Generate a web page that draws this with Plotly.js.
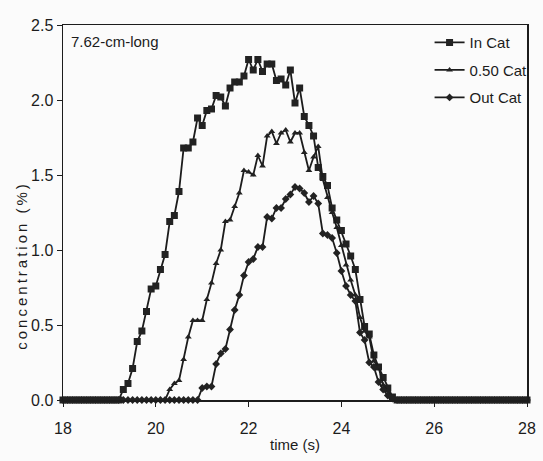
<!DOCTYPE html>
<html>
<head>
<meta charset="utf-8">
<script src="https://cdn.plot.ly/plotly-3.0.1.min.js"></script>
<style>
  html, body { margin: 0; padding: 0; background: #fbfbfb; }
  #chart { width: 543px; height: 461px; }
</style>
</head>
<body>
<div id="chart"></div>
<script>
// sampling: first time (s) and step (s)
const t0 = 18.0;
const dt = 0.1;

const seriesNames = ["In Cat", "0.50 Cat", "Out Cat"];

// concentration (%) from t = 18.0 s to 28.0 s, every 0.1 s
const inCat = [
  0,0,0,0,0,0,0,0,0,0,0,0,0,
  0.07,0.11,0.21,0.39,0.46,0.59,0.74,0.76,0.87,0.97,
  1.19,1.23,1.39,1.68,1.68,1.72,1.88,1.83,1.93,1.94,
  2.03,2.02,1.96,2.08,2.12,2.12,2.16,2.27,2.20,2.27,
  2.19,2.24,2.24,2.13,2.14,2.10,2.20,1.98,2.08,1.89,
  1.83,1.76,1.55,1.49,1.43,1.28,1.20,1.13,1.04,0.96,
  0.87,0.67,0.49,0.44,0.30,0.22,0.15,0.08,0.02,
  0,0,0,0,0,0,0,0,0,0,0,0,0,0,0,0,0,0,0,0,0,0,0,0,0,0,0,0,0
];
const halfCat = [
  0,0,0,0,0,0,0,0,0,0,0,0,0,0,0,0,0,0,0,0,0,0,0,
  0.07,0.11,0.13,0.27,0.42,0.53,0.53,0.53,0.67,0.78,
  0.91,1.00,1.19,1.20,1.29,1.38,1.53,1.52,1.50,1.63,
  1.56,1.76,1.79,1.71,1.78,1.80,1.72,1.78,1.78,1.65,
  1.53,1.62,1.69,1.47,1.35,1.25,1.15,1.03,0.90,0.80,
  0.70,0.55,0.46,0.42,0.26,0.22,0.10,0.06,0.02,
  0,0,0,0,0,0,0,0,0,0,0,0,0,0,0,0,0,0,0,0,0,0,0,0,0,0,0,0,0
];
const outCat = [
  0,0,0,0,0,0,0,0,0,0,0,0,0,0,0,0,0,0,0,0,0,0,0,0,0,0,0,0,0,0,
  0.08,0.09,0.09,0.24,0.31,0.34,0.47,0.60,0.70,0.83,
  0.92,0.94,1.02,1.02,1.22,1.21,1.28,1.28,1.34,1.37,
  1.42,1.41,1.38,1.32,1.36,1.31,1.11,1.10,1.08,0.98,
  0.86,0.76,0.70,0.66,0.45,0.40,0.25,0.22,0.12,0.07,
  0.03,0.01,
  0,0,0,0,0,0,0,0,0,0,0,0,0,0,0,0,0,0,0,0,0,0,0,0,0,0,0,0,0
];

const xTicks = [18, 20, 22, 24, 26, 28];
const yTicks = [0, 0.5, 1.0, 1.5, 2.0, 2.5];

const FONT = '"Liberation Sans Narrow", "Liberation Sans", Arial, sans-serif';
const INK = '#1c1c1c';

function trace(name, y, symbol, size) {
  return {
    type: 'scatter', mode: 'lines+markers', name: name, legendgroup: name,
    x0: t0, dx: dt, y: y, cliponaxis: false,
    line: { color: INK, width: 1.8 },
    marker: { symbol: symbol, size: size, color: '#222222', line: { width: 0 } }
  };
}

const data = [
  trace(seriesNames[0], inCat, 'square', 7),
  trace(seriesNames[1], halfCat, 'triangle-up', 6),
  trace(seriesNames[2], outCat, 'diamond', 6)
];

const layout = {
  width: 543, height: 461,
  margin: { l: 63, r: 10, t: 25, b: 61 },
  paper_bgcolor: '#fbfbfb', plot_bgcolor: '#fbfbfb',
  font: { family: FONT, size: 15, color: INK },
  showlegend: true,
  legend: {
    x: 1.012, y: 0.997, xanchor: 'right', yanchor: 'top',
    bgcolor: 'rgba(0,0,0,0)', borderwidth: 0,
    font: { family: FONT, size: 15, color: INK },
    traceorder: 'grouped', tracegroupgap: 5, itemwidth: 30
  },
  xaxis: {
    range: [18, 28], tickvals: xTicks, ticktext: xTicks.map(String),
    showline: true, linecolor: INK, linewidth: 1.5, mirror: true,
    ticks: 'outside', ticklen: 5, tickcolor: INK, showgrid: false, zeroline: false,
    ticklabelstandoff: 8,
    tickfont: { family: FONT, size: 16, color: INK },
    title: { text: 'time (s)', font: { family: FONT, size: 15, color: INK }, standoff: 4 }
  },
  yaxis: {
    range: [0, 2.5], tickvals: yTicks, ticktext: yTicks.map(v => v.toFixed(1)),
    showline: true, linecolor: INK, linewidth: 1.5, mirror: true,
    ticks: 'outside', ticklen: 5, tickcolor: INK, showgrid: false, zeroline: false,
    tickfont: { family: FONT, size: 16, color: INK }
  },
  annotations: [
    { text: '7.62-cm-long', xref: 'paper', yref: 'paper', x: 0.012, y: 0.985,
      xanchor: 'left', yanchor: 'top', showarrow: false,
      font: { family: FONT, size: 15, color: INK } },
    { text: 'concentration (%)', xref: 'paper', yref: 'paper', x: -0.09, y: 0.36,
      xanchor: 'center', yanchor: 'middle', textangle: -90, showarrow: false,
      font: { family: FONT, size: 15, color: INK } }
  ]
};

Plotly.newPlot('chart', data, layout, { displayModeBar: false, staticPlot: true }).then(() => {
  document.querySelectorAll('.annotation-text').forEach(el => {
    if (el.textContent.indexOf('concentration') === 0) el.style.letterSpacing = '3px';
  });
});
</script>
</body>
</html>
